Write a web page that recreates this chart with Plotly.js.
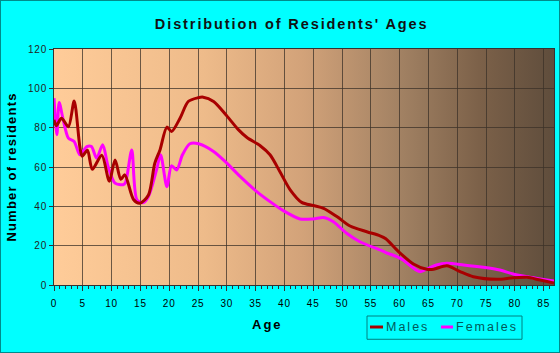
<!DOCTYPE html>
<html>
<head>
<meta charset="utf-8">
<script src="https://cdn.plot.ly/plotly-3.0.1.min.js"></script>
<style>
  html, body { margin: 0; padding: 0; background: #00FFFF; }
  #chart { width: 558px; height: 351px; border: 1px solid #008B8B; }
  #chart .gtitle { letter-spacing: 1.9px; }
  #chart .ytitle { letter-spacing: 1.2px; }
  #chart .xtick text, #chart .ytick text { letter-spacing: 0.8px; }
  #chart .annotation-text { letter-spacing: 2px; }
</style>
</head>
<body>
<div id="chart"></div>
<script>
// Males: ages and number of residents
const maleAges = [0, 0.4, 1.3, 2.5, 3.5, 4.5, 4.9, 5.8, 6.65, 8.3, 9.6, 10.6, 11.6, 12.3, 13.8, 14.9, 16.4, 17.5, 18.4, 19.6, 20.4, 21.9, 23.3, 25.0, 25.9, 27.7, 30, 32, 33.5, 35.8, 37.5, 39.2, 41, 43, 45, 46.8, 49.1, 51.4, 54.3, 56.6, 57.6, 59.8, 62.4, 64.7, 65.9, 68.2, 70.5, 72.8, 76.9, 79.7, 82.1, 84.4, 86.8];
const maleValues = [84, 81, 84.8, 80.5, 93.5, 70, 65.5, 68.5, 58.8, 66, 52.8, 63.6, 53.8, 56, 43.5, 41.6, 45.8, 62, 68.7, 80.3, 78, 84.9, 93.3, 95.2, 95.5, 93.3, 86, 79, 75, 70.8, 66.2, 57.7, 48.4, 42, 40.4, 39, 34.8, 30, 27.1, 25, 23.5, 17, 10.7, 8, 8, 9.8, 6.8, 4.2, 2.9, 3.7, 3.9, 2.5, 1];

// Females
const femaleAges = [0, 0.5, 0.9, 1.6, 2.5, 3.5, 4.5, 5.7, 6.5, 7.4, 8.45, 9.4, 10.6, 12.0, 12.4, 13.5, 14.4, 15.5, 16.4, 17.8, 18.5, 19.6, 20.4, 21.3, 22.3, 23.6, 25.1, 27.7, 30, 32.3, 35.2, 37.5, 39.8, 42.7, 45, 46.8, 48.5, 50.8, 53.1, 56.6, 57.6, 59.5, 60.6, 62.1, 63.5, 65, 66.4, 68.2, 71.1, 74.5, 77.4, 79.7, 82.6, 86.8];
const femaleValues = [95, 76.4, 92.8, 84, 74.7, 73, 66.2, 70.4, 70.4, 64.5, 71.3, 60.2, 51.8, 51, 52, 68.7, 43.3, 41.9, 45, 58.5, 66.2, 50, 60.6, 58.5, 66.2, 71.8, 71.8, 67.9, 62, 55.2, 47.5, 42.4, 37.8, 33.6, 33.6, 34.3, 32.2, 26.3, 22, 17.8, 16.5, 14.4, 12.7, 9.3, 6.8, 8.5, 10.2, 11, 10.2, 9, 7.6, 5.6, 3.9, 2];

const seriesNames = ['Males', 'Females'];
const seriesColors = ['#A80000', '#FF00FF'];
const xTickVals = [0, 5, 10, 15, 20, 25, 30, 35, 40, 45, 50, 55, 60, 65, 70, 75, 80, 85];
const yTickVals = [0, 20, 40, 60, 80, 100, 120];

const gradSvg = '<svg xmlns="http://www.w3.org/2000/svg" width="100" height="100" viewBox="0 0 100 100" preserveAspectRatio="none">' +
  '<defs><linearGradient id="g" x1="0" y1="0" x2="1" y2="0">' +
  '<stop offset="0" stop-color="#FFCC99"/>' +
  '<stop offset="0.3" stop-color="#EEBB8A"/>' +
  '<stop offset="0.5" stop-color="#D2A279"/>' +
  '<stop offset="0.7" stop-color="#A08062"/>' +
  '<stop offset="0.85" stop-color="#7C6149"/>' +
  '<stop offset="1" stop-color="#5F4D3C"/>' +
  '</linearGradient></defs><rect x="0" y="0" width="100" height="100" fill="url(#g)"/></svg>';

const traces = [
  { x: femaleAges, y: femaleValues, name: seriesNames[1], type: 'scatter', mode: 'lines',
    line: { color: seriesColors[1], width: 3, shape: 'spline', smoothing: 0.8 } },
  { x: maleAges, y: maleValues, name: seriesNames[0], type: 'scatter', mode: 'lines',
    line: { color: seriesColors[0], width: 3, shape: 'spline', smoothing: 0.8 } }
];

// hand-built legend (short swatches like the reference)
const legBox = { x0: 0.626, x1: 0.936, y0: -0.230, y1: -0.1314 };
const legY = -0.178;
const swatches = [[0.632, 0.658], [0.774, 0.798]];
const labelCenters = [0.706, 0.866];

const shapes = [
  { type: 'rect', xref: 'paper', yref: 'paper', x0: legBox.x0, x1: legBox.x1, y0: legBox.y0, y1: legBox.y1,
    line: { color: '#008080', width: 1 }, fillcolor: 'rgba(0,0,0,0)' }
];
const annotations = [
  { text: '<b>Age</b>', xref: 'paper', yref: 'paper', x: 0.426, y: -0.168, xanchor: 'center', yanchor: 'middle',
    showarrow: false, font: { size: 13, color: '#000' } }
];
seriesNames.forEach((n, i) => {
  shapes.push({ type: 'line', xref: 'paper', yref: 'paper', x0: swatches[i][0], x1: swatches[i][1], y0: legY, y1: legY,
    line: { color: seriesColors[i], width: 3 } });
  annotations.push({ text: n, xref: 'paper', yref: 'paper', x: labelCenters[i], y: legY, xanchor: 'center', yanchor: 'middle',
    showarrow: false, font: { size: 12.5, color: '#005A5A' } });
});

const layout = {
  width: 558, height: 351,
  margin: { l: 53, r: 5, t: 48, b: 67 },
  paper_bgcolor: '#00FFFF',
  plot_bgcolor: 'rgba(0,0,0,0)',
  showlegend: false,
  font: { family: 'Arial, Liberation Sans, sans-serif', color: '#000' },
  title: { text: "<b>Distribution of Residents' Ages</b>", x: 0.521, xanchor: 'center', y: 0.935, yanchor: 'middle',
           font: { size: 14.5, color: '#111' } },
  xaxis: {
    range: [0, 86.8], tickvals: xTickVals, showgrid: true, gridcolor: 'rgba(60,50,40,0.75)', gridwidth: 1,
    zeroline: false, showline: true, linecolor: '#333', linewidth: 1, mirror: true,
    ticks: 'outside', ticklen: 5, tickcolor: '#333', ticklabelstandoff: 4,
    minor: { dtick: 1, ticks: 'outside', ticklen: 3, tickcolor: '#333', showgrid: false },
    tickfont: { size: 10, color: '#000' }
  },
  yaxis: {
    range: [0, 120], tickvals: yTickVals, showgrid: true, gridcolor: 'rgba(60,50,40,0.75)', gridwidth: 1,
    zeroline: false, showline: true, linecolor: '#333', linewidth: 1, mirror: true,
    ticks: 'outside', ticklen: 4, tickcolor: '#333',
    tickfont: { size: 10, color: '#222' },
    title: { text: '<b>Number of residents</b>', font: { size: 13, color: '#000' }, standoff: 10 }
  },
  shapes: shapes,
  annotations: annotations,
  images: [{
    source: 'data:image/svg+xml;charset=utf-8,' + encodeURIComponent(gradSvg),
    xref: 'paper', yref: 'paper', x: 0, y: 1, sizex: 1, sizey: 1,
    sizing: 'stretch', layer: 'below', xanchor: 'left', yanchor: 'top'
  }]
};

Plotly.newPlot('chart', traces, layout, { displayModeBar: false, staticPlot: true });
</script>
</body>
</html>
